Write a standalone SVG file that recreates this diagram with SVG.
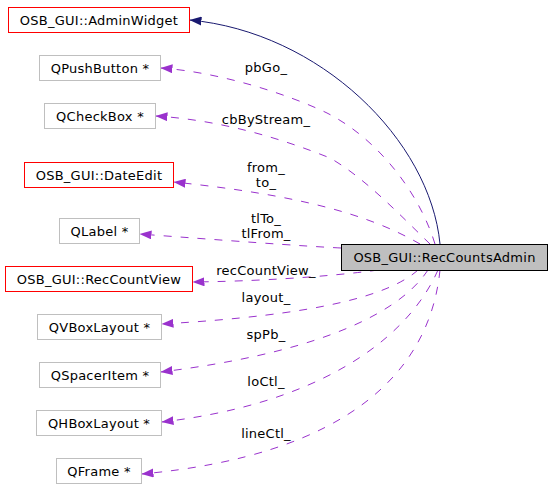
<svg xmlns="http://www.w3.org/2000/svg" width="552" height="499" viewBox="0 0 552 499">
<style>
text{font-family:"DejaVu Sans","Liberation Sans",sans-serif;font-size:13px;letter-spacing:0.25px;fill:#000;text-anchor:middle}
.red{fill:#fff;stroke:#ff0000;stroke-width:1}
.grey{fill:#fff;stroke:#bfbfbf;stroke-width:1}
.main{fill:#bfbfbf;stroke:#000;stroke-width:1}
.use{fill:none;stroke:#9a32cd;stroke-width:1;stroke-dasharray:8,9;marker-end:url(#pa)}
.inh{fill:none;stroke:#191970;stroke-width:1;marker-end:url(#na)}
</style>
<defs>
<marker id="pa" viewBox="0 0 12 9" refX="12" refY="4.5" markerWidth="12" markerHeight="9" markerUnits="userSpaceOnUse" orient="auto"><path d="M12,4.5 L0,0 L0,9 z" fill="#9a32cd"/></marker>
<marker id="na" viewBox="0 0 12 9" refX="12" refY="4.5" markerWidth="12" markerHeight="9" markerUnits="userSpaceOnUse" orient="auto"><path d="M12,4.5 L0,0 L0,9 z" fill="#191970"/></marker>
</defs>
<g id="edges">
<path class="inh" d="M440,244 C430,140 320,32 189.5,20"/>
<path class="use" d="M435,244 C420,195 380,140 327,113 C290,95 220,72 160.5,68"/>
<path class="use" d="M430,244 C400,215 365,178 330,158 C280,138 220,120 155.5,116"/>
<path class="use" d="M420,244 C370,215 300,195 173.5,182"/>
<path class="use" d="M341,248 C300,246 220,240 139.5,234"/>
<path class="use" d="M378,270 C350,274 280,281 192.5,282"/>
<path class="use" d="M418,270 C390,295 320,315 161.5,324"/>
<path class="use" d="M428,270 C395,320 300,355 160.5,372"/>
<path class="use" d="M438,270 C405,345 310,405 161.5,422"/>
<path class="use" d="M440,270 C430,370 350,455 141.5,474"/>
<text x="266" y="72">pbGo_</text>
<text x="266" y="124">cbByStream_</text>
<text x="266" y="172">from_</text>
<text x="266" y="187">to_</text>
<text x="266" y="223">tlTo_</text>
<text x="266" y="238">tlFrom_</text>
<text x="266" y="275">recCountView_</text>
<text x="266" y="302">layout_</text>
<text x="266" y="339">spPb_</text>
<text x="266" y="386">loCtl_</text>
<text x="266" y="438">lineCtl_</text>
</g>
<g id="RecCountsAdmin"><rect class="main" x="341.5" y="244.5" width="206" height="26"/><text x="444.5" y="262">OSB_GUI::RecCountsAdmin</text></g>
<g id="AdminWidget"><rect class="red" x="8.5" y="7.5" width="181" height="25"/><text x="99" y="24.5">OSB_GUI::AdminWidget</text></g>
<g id="QPushButton"><rect class="grey" x="39.5" y="55.5" width="121" height="25"/><text x="100" y="72.5">QPushButton *</text></g>
<g id="QCheckBox"><rect class="grey" x="44.5" y="103.5" width="111" height="25"/><text x="100" y="120.5">QCheckBox *</text></g>
<g id="DateEdit"><rect class="red" x="24.5" y="162.5" width="149" height="25"/><text x="99" y="179.5">OSB_GUI::DateEdit</text></g>
<g id="QLabel"><rect class="grey" x="59.5" y="218.5" width="80" height="25"/><text x="99.5" y="235.5">QLabel *</text></g>
<g id="RecCountView"><rect class="red" x="5.5" y="266.5" width="187" height="25"/><text x="99" y="283.5">OSB_GUI::RecCountView</text></g>
<g id="QVBoxLayout"><rect class="grey" x="37.5" y="314.5" width="124" height="25"/><text x="99.5" y="331.5">QVBoxLayout *</text></g>
<g id="QSpacerItem"><rect class="grey" x="39.5" y="362.5" width="121" height="25"/><text x="100" y="379.5">QSpacerItem *</text></g>
<g id="QHBoxLayout"><rect class="grey" x="36.5" y="410.5" width="125" height="25"/><text x="99" y="427.5">QHBoxLayout *</text></g>
<g id="QFrame"><rect class="grey" x="56.5" y="458.5" width="85" height="25"/><text x="99" y="475.5">QFrame *</text></g>
</svg>
